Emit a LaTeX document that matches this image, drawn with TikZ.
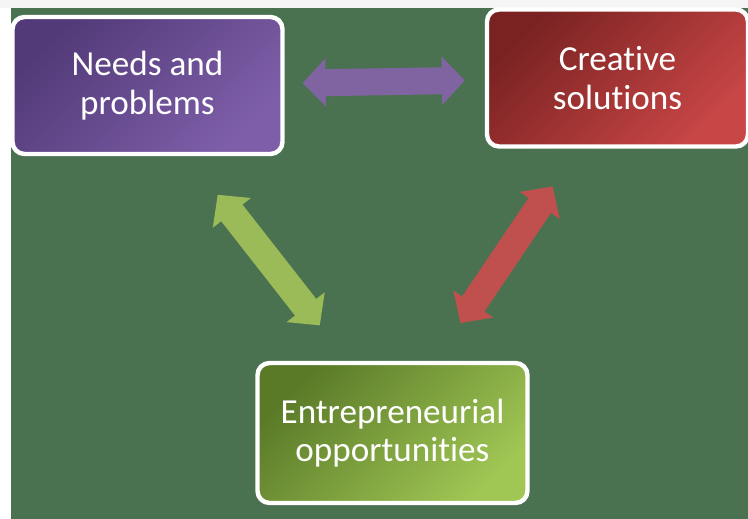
\documentclass[tikz,border=0pt]{standalone}
\usepackage{fontspec}
\setmainfont{Carlito}[Ligatures=NoCommon]
\usetikzlibrary{arrows.meta}

\definecolor{slidegreen}{HTML}{4A7250}
\definecolor{needsdark}{HTML}{523A78}
\definecolor{needslight}{HTML}{7E5EA9}
\definecolor{creativedark}{HTML}{7A2222}
\definecolor{creativelight}{HTML}{C94646}
\definecolor{oppsdark}{HTML}{5A7A28}
\definecolor{oppslight}{HTML}{A0C654}
\definecolor{purplearrow}{HTML}{8064A2}
\definecolor{redarrow}{HTML}{C0504D}
\definecolor{greenarrow}{HTML}{9BBB59}

\tikzset{
  box/.style={draw=white, line width=2.5pt, rounded corners=0.24cm,
    minimum width=5.4cm, minimum height=2.74cm, text=white, align=center,
    font=\fontsize{20}{22}\selectfont},
  needsshade/.style={top color=needsdark, bottom color=needslight, shading angle=45},
  creativeshade/.style={top color=creativedark, bottom color=creativelight, shading angle=45},
  oppsshade/.style={top color=oppsdark, bottom color=oppslight, shading angle=45},
  link/.style={line width=0.54cm,
    {Triangle[length=0.46cm,width=0.94cm]}-{Triangle[length=0.46cm,width=0.94cm]}},
}

\begin{document}
\begin{tikzpicture}[x=0.02cm,y=-0.02cm]
            \useasboundingbox (0,0) rectangle (748,519);
            % slide background
            \fill[white] (0,0) rectangle (748,519);
            \fill[gray!8] (0,0) rectangle (748,8);
            \fill[slidegreen] (11,8) rectangle (748,519);

            \node[box, needsshade] (needs) at (147.5,85.5) {Needs and\\problems};
            \node[box, creativeshade, minimum width=5.22cm] (creative) at (617.5,78) {Creative\\solutions};
            \node[box, oppsshade, minimum height=2.8cm] (opps) at (392.5,433) {Entrepreneurial\\opportunities};

            % two-way arrows
            \draw[link, color=purplearrow, shorten <=0.36cm, shorten >=0.4cm] (needs) -- (creative);
            \draw[link, color=greenarrow, shorten <=0.98cm, shorten >=0.9cm]
                ([xshift=0.8cm]needs.south) -- ([xshift=-0.9cm]opps.north);
            \draw[link, color=redarrow, shorten <=0.91cm, shorten >=0.91cm]
                ([xshift=-0.79cm]creative.south) -- ([xshift=0.85cm]opps.north);
        \end{tikzpicture}
\end{document}
